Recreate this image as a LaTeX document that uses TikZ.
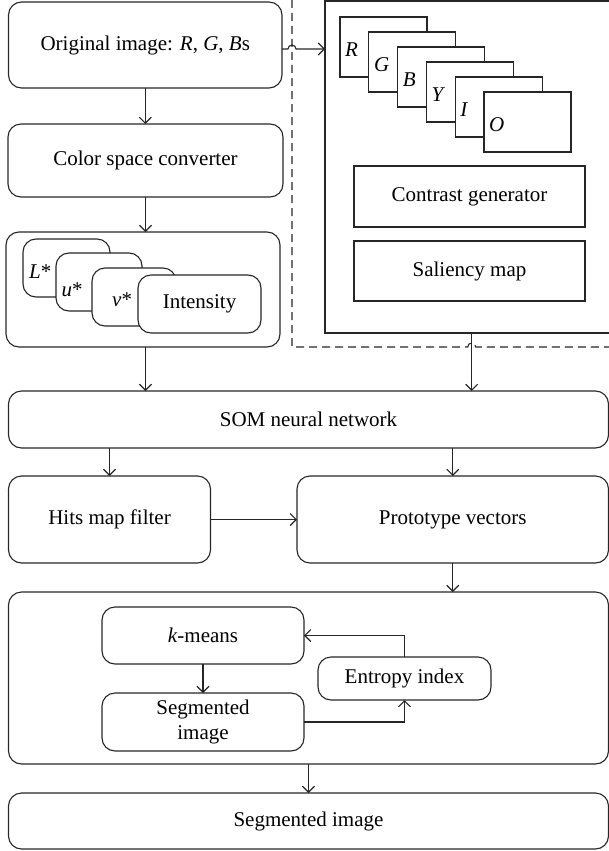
\documentclass[tikz,border=0pt]{standalone}
\usepackage{fontspec}
\setmainfont{Liberation Serif}
\usetikzlibrary{arrows.meta,calc}
\begin{document}
\begin{tikzpicture}[x=1pt,y=-1pt,
  every node/.style={font=\fontsize{21}{25}\selectfont},
  box/.style={draw=black!85, line width=1.1pt, inner sep=0pt, outer sep=0pt, align=center},
  rbox/.style={box, rounded corners=13pt},
  sbox/.style={box, fill=white},
  lbl/.style={inner sep=0pt, anchor=west},
  arr/.style={draw=black!85, line width=1.1pt, -{Straight Barb[length=6pt,width=12pt,line width=1.1pt]}},
  dash line/.style={draw=black!85, line width=1.1pt, dash pattern=on 8pt off 5pt}
]
\useasboundingbox (0,0) rectangle (609,851);
\clip (0,0) rectangle (609,851);

% left column
\node[rbox, minimum width=273.5pt, minimum height=86pt] (orig) at (145.25,45) {Original image: \textit{R}, \textit{G}, \textit{B}s};
\node[rbox, minimum width=275pt, minimum height=73pt] (csc) at (145.5,160.5) {Color space converter};
\node[rbox, minimum width=274pt, minimum height=115pt] (luv) at (143,289.5) {};
\node[rbox, fill=white, minimum width=87pt, minimum height=58pt] (Lb) at (66.5,268) {};
\node[lbl] (Lt) at (29,272) {\textit{L}*};
\node[rbox, fill=white, minimum width=86pt, minimum height=58pt] (ub) at (99,282) {};
\node[lbl] (ut) at (61.5,290) {\textit{u}*};
\node[rbox, fill=white, minimum width=84pt, minimum height=58pt] (vb) at (134,297) {};
\node[lbl] (vt) at (112,300) {\textit{v}*};
\node[rbox, fill=white, minimum width=123pt, minimum height=58pt] (ib) at (199.5,304) {Intensity};

% right panel
\node[box, minimum width=315pt, minimum height=332pt] (rt) at (482.5,167) {};
\foreach \n [count=\i from 0] in {R,G,B,Y,I,O} {
  \node[sbox, minimum width=87pt, minimum height=60pt] (s\n) at ({383.5+28.8*\i},{47+15*\i}) {};
  \node[lbl] (t\n) at ($(s\n.north west)+(5,33)$) {\textit{\n}};
}
\node[sbox, minimum width=231pt, minimum height=61pt] (cg) at (469.5,196.5) {Contrast generator};
\node[sbox, minimum width=231pt, minimum height=60pt] (sm) at (469.5,271) {Saliency map};

% dashed separator
\coordinate (d0) at (292,0);
\coordinate (dc) at (292,347);
\coordinate (dh) at (467.7,347);
\coordinate (de) at (615,347);
\draw[dash line] (d0) -- (dc) -- (dh) arc[start angle=180,end angle=0,radius=4pt] -- (de);

% lower part
\node[rbox, minimum width=600pt, minimum height=57pt] (som) at (308.5,419.5) {SOM neural network};
\node[rbox, minimum width=202pt, minimum height=87pt] (hits) at (109.5,519.5) {Hits map filter};
\node[rbox, minimum width=311.5pt, minimum height=87pt] (proto) at (452.75,519.5) {Prototype vectors};
\node[rbox, minimum width=600pt, minimum height=172pt] (big) at (308.5,678) {};
\node[rbox, minimum width=202pt, minimum height=57pt] (km) at (203,635.5) {\textit{k}-means};
\node[rbox, minimum width=202pt, minimum height=58pt] (seg) at (203,722) {Segmented\\image};
\node[rbox, minimum width=173pt, minimum height=43pt] (ent) at (404.5,678.5) {Entropy index};
\node[rbox, minimum width=600pt, minimum height=56pt] (fin) at (308.5,821) {Segmented image};

% connectors
\coordinate (hopA) at (288,0);
\draw[arr] ([yshift=-4pt]orig.east) -- ([yshift=-4pt]orig.east -| hopA) arc[start angle=180,end angle=0,radius=4pt] -- ([yshift=-4pt]orig.east -| rt.west);
\draw[arr] (orig.south) -- (orig.south |- csc.north);
\draw[arr] (csc.south) -- (csc.south |- luv.north);
\draw[arr] (luv.south -| csc.south) -- (som.north -| csc.south);
\draw[arr] ([xshift=-10.8pt]rt.south) -- ([xshift=-10.8pt]rt.south |- som.north);
\draw[arr] (som.south -| hits.north) -- (hits.north);
\draw[arr] (som.south -| proto.north) -- (proto.north);
\draw[arr] (hits.east) -- (proto.west);
\draw[arr] (proto.south) -- (proto.south |- big.north);
\draw[arr] (km.south) -- (seg.north);
\draw[arr] (seg.east) -| (ent.south);
\draw[arr] (ent.north) |- (km.east);
\draw[arr] (big.south) -- (fin.north);
\end{tikzpicture}
\end{document}
